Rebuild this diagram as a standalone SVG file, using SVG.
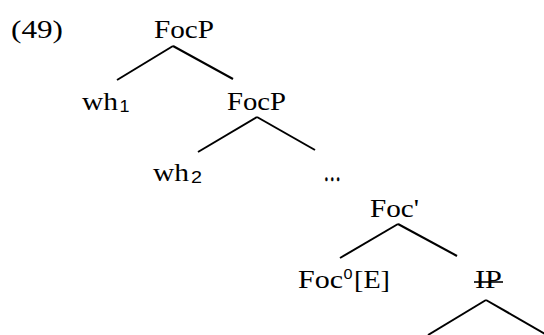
<svg xmlns="http://www.w3.org/2000/svg" width="544" height="335" viewBox="0 0 544 335">
<style>
text{font-family:"Liberation Serif","DejaVu Serif",serif;font-size:25.5px;fill:#000}
.sub{font-size:17px;font-family:"Liberation Sans","DejaVu Sans",sans-serif}
.sup{font-size:15.5px;font-family:"Liberation Sans","DejaVu Sans",sans-serif}
.dots{font-size:30px;stroke:#000;stroke-width:0.6}
line{stroke:#000;stroke-width:2;stroke-linecap:butt}
</style>
<rect width="544" height="335" fill="#fff"/>
<text x="11" y="38" textLength="52" lengthAdjust="spacingAndGlyphs">(49)</text>
<g id="n-focp1"><text x="154" y="38" textLength="60" lengthAdjust="spacingAndGlyphs">FocP</text></g>
<g id="n-wh1"><text x="82" y="110" textLength="36" lengthAdjust="spacingAndGlyphs">wh</text><text class="sub" x="119.5" y="111.5" textLength="10" lengthAdjust="spacingAndGlyphs">1</text></g>
<g id="n-focp2"><text x="227" y="110" textLength="59" lengthAdjust="spacingAndGlyphs">FocP</text></g>
<g id="n-wh2"><text x="153" y="181" textLength="36" lengthAdjust="spacingAndGlyphs">wh</text><text class="sub" x="191" y="182.5" textLength="11" lengthAdjust="spacingAndGlyphs">2</text></g>
<g id="n-dots"><text class="dots" x="323.5" y="181" textLength="17.5" lengthAdjust="spacingAndGlyphs">…</text></g>
<g id="n-focbar"><text x="370" y="217" textLength="49" lengthAdjust="spacingAndGlyphs">Foc'</text></g>
<g id="n-foc0"><text x="298" y="288" textLength="45" lengthAdjust="spacingAndGlyphs">Foc</text><text class="sup" x="343.5" y="278.5" textLength="9" lengthAdjust="spacingAndGlyphs">0</text><text x="354" y="288" textLength="36" lengthAdjust="spacingAndGlyphs">[E]</text></g>
<g id="n-ip"><text x="475" y="288" textLength="27" lengthAdjust="spacingAndGlyphs">IP</text><line x1="474" y1="282" x2="503" y2="282" style="stroke-width:1.6"/></g>
<g id="connectors">
<line x1="173" y1="46" x2="117" y2="80"/>
<line x1="173" y1="46" x2="233" y2="79"/>
<line x1="257" y1="117" x2="198" y2="152"/>
<line x1="257" y1="117" x2="315" y2="150"/>
<line x1="398" y1="224" x2="340" y2="258"/>
<line x1="398" y1="224" x2="457" y2="256"/>
<line x1="486" y1="300" x2="428" y2="335"/>
<line x1="486" y1="300" x2="547" y2="335"/>
</g>
</svg>
